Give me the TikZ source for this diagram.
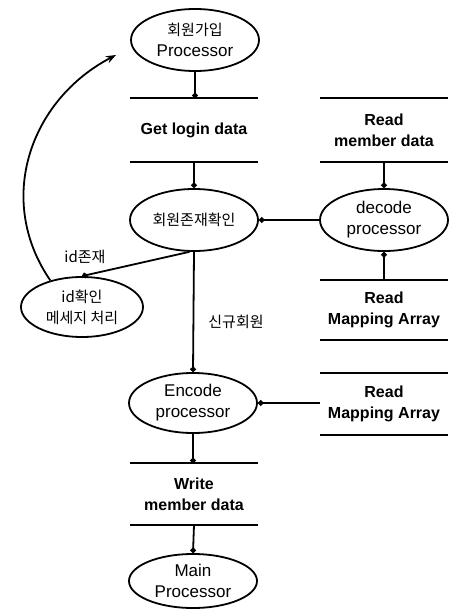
\documentclass[tikz,border=0pt]{standalone}
\usepackage{fontspec}
\setmainfont{Liberation Sans}
\newfontfamily\kr{Noto Sans CJK KR}
\usetikzlibrary{shapes.geometric, arrows.meta, positioning}
\newcommand{\hangul}[1]{{\kr\fontsize{15}{18}\selectfont #1}}
\tikzset{
  proc/.style={ellipse, draw, line width=1.8pt, inner sep=0pt,
               minimum width=128pt, minimum height=62pt,
               align=center, font=\fontsize{17}{21}\selectfont},
  store/.style={rectangle, inner sep=0pt, minimum width=128pt,
                minimum height=63pt, align=center,
                font=\fontsize{16}{21}\selectfont\bfseries},
  bar/.style={line width=1.8pt},
  flow/.style={line width=1.8pt, -{Circle[length=5.5pt]}},
  rflow/.style={line width=1.8pt, {Circle[length=5.5pt]}-},
  lbl/.style={font=\kr\fontsize{15}{18}\selectfont},
}

\begin{document}
\begin{tikzpicture}[x=1pt, y=-1pt]
  \useasboundingbox (0,0) rectangle (448,610);

  % processes
  \node[proc] (join)   at (195,40)  {\hangul{회원가입}\\Processor};
  \node[proc] (check)  at (194,220) {\hangul{회원존재확인}};
  \node[proc] (decode) at (384,220) {decode\\processor};
  \node[proc, minimum width=122pt, minimum height=60pt] (idmsg) at (82,307) {\hangul{id확인}\\\hangul{메세지 처리}};
  \node[proc, minimum height=60pt] (encode) at (193,403) {Encode\\processor};
  \node[proc, minimum height=54pt] (main)   at (193,581) {Main\\Processor};

  % data stores
  \node[store] (login) at (194,130) {Get login data};
  \node[store] (rmem)  at (384,130) {Read\\member data};
  \node[store, minimum height=60pt] (map1) at (384,310) {Read\\Mapping Array};
  \node[store, minimum height=61pt] (map2) at (384,404) {Read\\Mapping Array};
  \node[store, minimum height=61pt] (wmem) at (194,494) {Write\\member data};
  \foreach \s in {login,rmem,map1,map2,wmem}
    \draw[bar] (\s.north west) -- (\s.north east) (\s.south west) -- (\s.south east);

  % labels
  \node[lbl] (idyes)  at (85,257)  {id존재};
  \node[lbl] (newmem) at (236,322) {신규회원};

  \draw[flow] (join.south) -- (join.south |- login.north);
  \draw[flow] (login.south) -- (check.north);
  \draw[rflow] (check.east) -- (decode.west);
  \draw[flow] (rmem.south) -- (decode.north);
  \draw[rflow] (decode.south) -- (map1.north);
  \draw[flow] (check.262) -- (idmsg.north);
  \draw[flow] (check.south) -- (encode.north);
  \draw[rflow] (encode.east) -- (map2.west |- encode.east);
  \draw[flow] (encode.south) -- (encode.south |- wmem.north);
  \draw[flow] (wmem.south) -- (main.north);

  \coordinate (back) at (116,55);
  \draw[line width=1.8pt, -{Stealth[length=10pt]}] (idmsg.140) .. controls (-5,200) and (30,100) .. (back);
\end{tikzpicture}
\end{document}
